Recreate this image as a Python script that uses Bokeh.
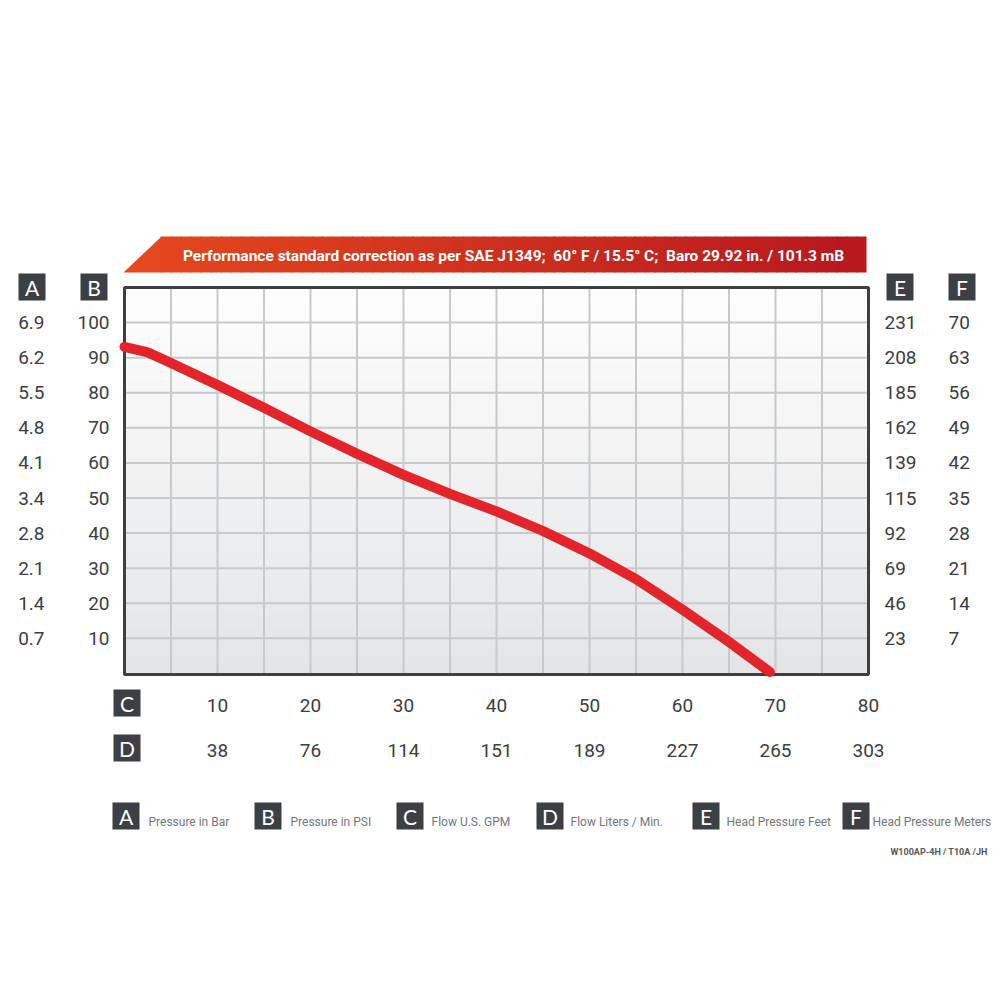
import numpy as np
from bokeh.plotting import figure
from bokeh.models import (LinearAxis, FixedTicker, Range1d, Label, BoxAnnotation,
                          PolyAnnotation)
from bokeh.embed import file_html
from bokeh.resources import INLINE

# ---------------- data ----------------
flow_gpm = [0, 2.5, 5, 10, 15, 20, 25, 30, 35, 40, 45, 50, 55, 60, 65, 69.4]
pressure_psi = [93.1, 91.5, 88.5, 82.2, 75.7, 69.0, 62.6, 56.6, 51.2, 46.2, 40.6,
                34.2, 26.9, 18.2, 9.0, 0.4]

psi_ticks = [10, 20, 30, 40, 50, 60, 70, 80, 90, 100]
bar_labels = ["0.7", "1.4", "2.1", "2.8", "3.4", "4.1", "4.8", "5.5", "6.2", "6.9"]
psi_labels = ["10", "20", "30", "40", "50", "60", "70", "80", "90", "100"]
feet_labels = ["23", "46", "69", "92", "115", "139", "162", "185", "208", "231"]
meter_labels = ["7", "14", "21", "28", "35", "42", "49", "56", "63", "70"]
gpm_ticks = [10, 20, 30, 40, 50, 60, 70, 80]
gpm_labels = ["10", "20", "30", "40", "50", "60", "70", "80"]
lpm_labels = ["38", "76", "114", "151", "189", "227", "265", "303"]
grid_x = [5, 10, 15, 20, 25, 30, 35, 40, 45, 50, 55, 60, 65, 70, 75]

legend_keys = ["A", "B", "C", "D", "E", "F"]
legend_texts = ["Pressure in Bar", "Pressure in PSI", "Flow U.S. GPM",
                "Flow Liters / Min.", "Head Pressure Feet", "Head Pressure Meters"]
banner_text = ("Performance standard correction as per SAE J1349;\u00a0 60\u00b0 F / "
               "15.5\u00b0 C;\u00a0 Baro 29.92 in. / 101.3 mB")
model_text = "W100AP-4H / T10A /JH"

# ---------------- layout ----------------
FONT = "Roboto"
DARK = "#3b3e42"
X0, X1, Y0, Y1 = 0, 80, -0.3, 110          # chart box in data units
FL, FR, FT, FB = 124, 868, 287, 674        # chart box on the picture (px)
W, H = 1000, 900


def dx(sx):
    return X0 + (sx - FL) / (FR - FL) * (X1 - X0)


def dy(sy):
    return Y1 - (sy - FT) / (FB - FT) * (Y1 - Y0)


p = figure(width=W, height=H, x_range=Range1d(dx(0), dx(W)),
           y_range=Range1d(dy(H), dy(0)),
           x_axis_location=None, y_axis_location=None, toolbar_location=None,
           output_backend="svg", min_border=0)
p.background_fill_color = "white"
p.border_fill_color = "white"
p.outline_line_color = None
p.grid.visible = False

# background gradient inside chart box
n = 200
top = np.array([254, 254, 254])
bot = np.array([228, 229, 231])
img = np.zeros((n, 1, 4), dtype=np.uint8)
for i in range(n):
    t = i / (n - 1)  # row 0 = bottom
    img[i, 0, :3] = (bot * (1 - t) + top * t).astype(np.uint8)
    img[i, 0, 3] = 255
p.image_rgba(image=[img.view(np.uint32).reshape(n, 1)], x=X0, y=Y0, dw=X1 - X0,
             dh=Y1 - Y0)

# grid
p.segment(x0=grid_x, y0=[Y0] * len(grid_x), x1=grid_x, y1=[Y1] * len(grid_x),
          line_color="#c8c9cb", line_width=2)
p.segment(x0=[X0] * len(psi_ticks), y0=psi_ticks, x1=[X1] * len(psi_ticks),
          y1=psi_ticks, line_color="#c8c9cb", line_width=2)

# chart box border
p.quad(left=[X0], right=[X1], bottom=[Y0], top=[Y1], fill_color=None,
       line_color="#3c3f44", line_width=3)

# curve
p.line(flow_gpm, pressure_psi, line_width=10, line_color="#e3242a",
       line_cap="round", line_join="round")


def make_axis(ticks, labels, standoff, loc):
    ax = LinearAxis(fixed_location=loc, ticker=FixedTicker(ticks=ticks),
                    major_label_overrides={t: l for t, l in zip(ticks, labels)})
    ax.axis_line_color = None
    ax.major_tick_line_color = None
    ax.minor_tick_line_color = None
    ax.major_tick_out = 0
    ax.major_tick_in = 0
    ax.major_label_text_font = FONT
    ax.major_label_text_font_size = "19px"
    ax.major_label_text_color = DARK
    ax.major_label_standoff = standoff
    return ax


p.add_layout(make_axis(psi_ticks, psi_labels, 15, X0), "left")
p.add_layout(make_axis(psi_ticks, bar_labels, 80, X0), "left")
p.add_layout(make_axis(psi_ticks, feet_labels, 16, X1), "right")
p.add_layout(make_axis(psi_ticks, meter_labels, 80, X1), "right")
p.add_layout(make_axis(gpm_ticks, gpm_labels, 24, Y0), "below")
p.add_layout(make_axis(gpm_ticks, lpm_labels, 69, Y0), "below")

# banner with horizontal gradient
bx0, bx1, btop, bbot, bslant = 123, 866, 236, 272, 160
c_left = np.array([229, 72, 30])
c_right = np.array([183, 24, 30])
p.add_layout(PolyAnnotation(xs=[dx(bx0), dx(bslant + 1), dx(bslant + 1)],
                            ys=[dy(bbot), dy(btop), dy(bbot)],
                            fill_color="#%02x%02x%02x" % tuple(c_left), fill_alpha=1,
                            line_color=None))
ns = 70
edges = np.linspace(bslant, bx1, ns + 1)
for i in range(ns):
    t = (edges[i] - bx0) / (bx1 - bx0)
    c = (c_left * (1 - t) + c_right * t).astype(int)
    a, b = edges[i], min(edges[i + 1] + 1, bx1)
    p.add_layout(PolyAnnotation(xs=[dx(a), dx(b), dx(b), dx(a)],
                                ys=[dy(btop), dy(btop), dy(bbot), dy(bbot)],
                                fill_color="#%02x%02x%02x" % tuple(c), fill_alpha=1,
                                line_color=None))
p.add_layout(Label(x=dx(513), y=dy(255), text=banner_text, text_align="center",
                   text_baseline="middle", text_color="white", text_font=FONT,
                   text_font_size="15.5px", text_font_style="bold"))


def key_box(letter, left, topy, size=27):
    p.add_layout(BoxAnnotation(left=dx(left), right=dx(left + size), top=dy(topy),
                               bottom=dy(topy + size), fill_color="#3c3f43",
                               fill_alpha=1, line_color=None))
    p.add_layout(Label(x=dx(left + size / 2), y=dy(topy + size / 2), text=letter,
                       text_align="center", text_baseline="middle",
                       text_color="white", text_font="Lato",
                       text_font_size="21px"))


# axis keys
key_box("A", 18, 273)
key_box("B", 80, 273)
key_box("E", 886, 273)
key_box("F", 948, 273)
key_box("C", 113, 689)
key_box("D", 113, 734)

# legend
legend_box_x = [112, 254, 396, 536, 692, 842]
legend_text_x = [148, 290, 431, 570, 726, 872]
for k, t, bxp, txp in zip(legend_keys, legend_texts, legend_box_x, legend_text_x):
    key_box(k, bxp, 802)
    p.add_layout(Label(x=dx(txp), y=dy(821), text=t, text_align="left",
                       text_baseline="middle", text_color="#72777d",
                       text_font=FONT, text_font_size="12px"))

p.add_layout(Label(x=dx(987), y=dy(851), text=model_text, text_align="right",
                   text_baseline="middle", text_color="#55585c", text_font=FONT,
                   text_font_size="9px", text_font_style="bold"))

open("out.html", "w").write(file_html(p, INLINE))
